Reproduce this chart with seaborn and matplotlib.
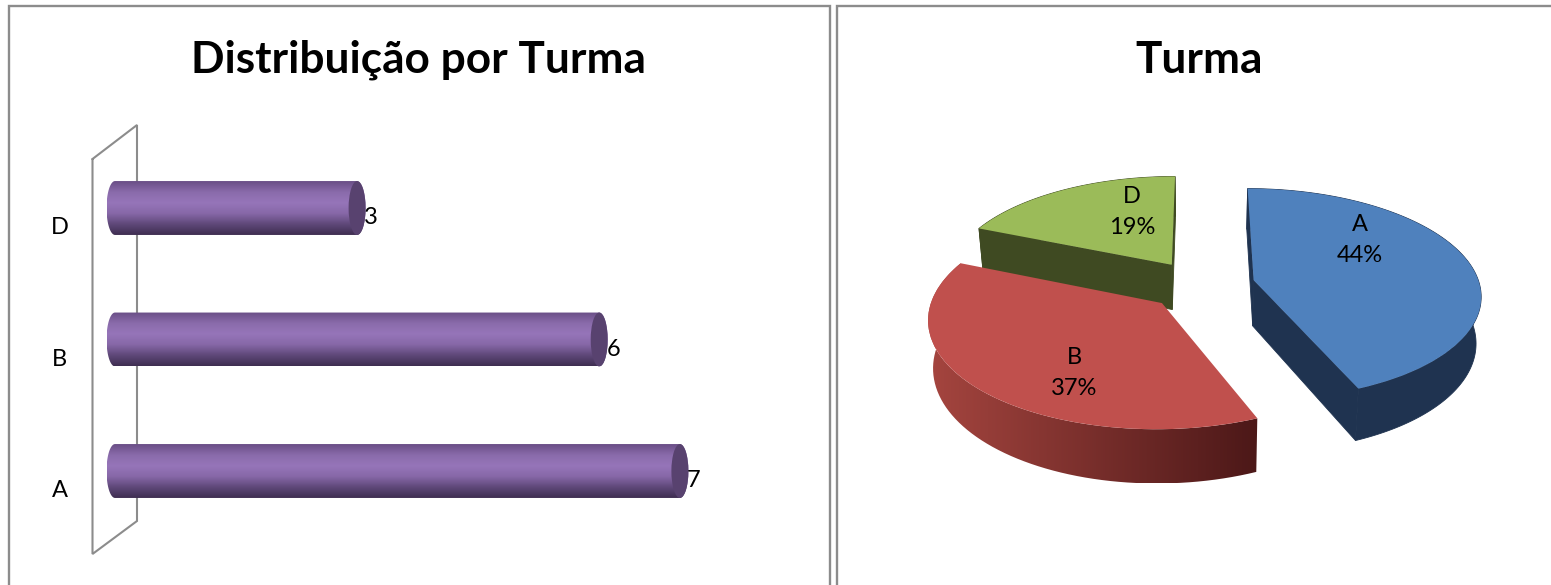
import numpy as np
import matplotlib
matplotlib.use("Agg")
import matplotlib.pyplot as plt
import seaborn as sns
from matplotlib.colors import LinearSegmentedColormap
from matplotlib.lines import Line2D
from matplotlib.patches import Ellipse, PathPatch
from matplotlib.path import Path
from matplotlib.transforms import Affine2D, ScaledTranslation, Transform

# dados
turmas_barras = ["D", "B", "A"]
alunos_barras = [3, 6, 7]

turmas_pizza = ["A", "B", "D"]
alunos_pizza = [7, 6, 3]
percentuais = [44, 37, 19]

cores_topo = ["#4f81bd", "#c0504d", "#9bbb59"]

W, H = 1551, 585
CINZA = "#8c8c8c"

sns.set_theme(style="white")
plt.rcParams["font.family"] = ["Lato", "DejaVu Sans"]
plt.rcParams["text.color"] = "black"

fig = plt.figure(figsize=(W / 100, H / 100), dpi=100, facecolor="white")
# transformacao em pixels da imagem, origem no canto superior esquerdo
px = Affine2D().scale(1, -1).translate(0, H)


def eixo_px(x0, y0, x1, y1):
    return fig.add_axes([x0 / W, 1 - y1 / H, (x1 - x0) / W, (y1 - y0) / H])


# molduras dos dois paineis
for xs, ys in [([9, 9, 830, 830], [H, 5.5, 5.5, H]), ([836.5, 836.5, W], [H, 5.5, 5.5])]:
    fig.add_artist(Line2D(xs, ys, color=CINZA, lw=1.7, transform=px, solid_joinstyle="miter"))

# ---- painel esquerdo: barras cilindricas
ax = eixo_px(100, 100, 750, 570)
ax.patch.set_visible(False)
ESC_X, ESC_Y = 80.7, 131.5
RX = 8.5 / ESC_X
sns.barplot(x=alunos_barras, y=turmas_barras, orient="h", color="#8064a2", width=0.41,
            saturation=1, ax=ax)
ax.set_xlabel("")
ax.set_ylabel("")
ax.set_xticks([])
sns.despine(ax=ax, left=True, bottom=True)
ax.tick_params(axis="y", length=0, pad=29, labelsize=17, colors="black")
for rot in ax.get_yticklabels():
    rot.set_ha("center")
    rot.set_transform(rot.get_transform() + ScaledTranslation(0, -18 / 100, fig.dpi_scale_trans))

# parede do eixo
ax.plot([92.5, 137, 137, 92.5, 92.5], [159, 125, 521, 554, 159], color=CINZA, lw=1.5,
        transform=px, clip_on=False, zorder=0, solid_joinstyle="miter")

degrade = LinearSegmentedColormap.from_list(
    "cilindro", ["#6a4f87", "#8a6bab", "#9675b9", "#8768a8", "#60497a", "#3f2e52"])
t = np.linspace(0, np.pi, 40)
for barra, valor in zip(ax.patches, alunos_barras):
    topo, alt = barra.get_y(), barra.get_height()
    ry, meio = alt / 2, topo + alt / 2
    xs = np.r_[valor + RX * np.sin(t), -RX * np.sin(t)]
    ys = np.r_[meio - ry * np.cos(t), meio + ry * np.cos(t)]
    contorno = PathPatch(Path(np.c_[xs, ys]), facecolor="none", edgecolor="none",
                         transform=ax.transData)
    ax.add_patch(contorno)
    im = ax.imshow(np.linspace(0, 1, 64)[:, None], cmap=degrade, aspect="auto", zorder=2,
                   extent=(-RX, valor + RX, topo + alt, topo))
    im.set_clip_path(contorno)
    barra.set_visible(False)
    ax.add_patch(Ellipse((valor, meio), 2 * RX, alt, facecolor="#58426f", edgecolor="none", zorder=3))
    ax.annotate(str(valor), (valor, meio), xytext=(14, -10), textcoords="offset pixels",
                ha="center", va="center", fontsize=17, zorder=4)

ax.set_xlim((100 - 115) / ESC_X, (750 - 115) / ESC_X)
ax.set_ylim((570 - 208) / ESC_Y, (100 - 208) / ESC_Y)
ax.set_title("Distribuição por Turma", fontsize=31.8, fontweight="bold", color="black",
             x=(418.5 - 100) / 650, y=(570 - 73) / 470, pad=0)


# ---- painel direito: pizza em perspectiva
def projeta(x, y, z=0.0):
    f = 1 / (1 + 0.13 * np.asarray(y))
    return np.asarray(x) * f * (1 - 0.09 * z), (np.asarray(y) * 0.463 - z) * f


class Perspectiva(Transform):
    input_dims = output_dims = 2
    is_separable = False
    has_inverse = False

    def transform_non_affine(self, values):
        values = np.asarray(values)
        return np.column_stack(projeta(values[:, 0], values[:, 1]))


R = 226
PROF = 46 / R
ax2 = eixo_px(850, 100, 1550, 560)
ax2.patch.set_visible(False)
fatias, _ = ax2.pie(alunos_pizza, colors=cores_topo, explode=[54 / R] * 3, startangle=90,
                    counterclock=False, radius=1)
ax2.set_aspect("auto")
ax2.set_xlim((850 - 1201) / R, (1550 - 1201) / R)
ax2.set_ylim((285 - 560) / R, (285 - 100) / R)
ax2.axis("off")


def face_reta(fatia, ang, cor, z):
    cx, cy = fatia.center
    x = np.array([cx, cx + np.cos(np.radians(ang))])
    y = np.array([cy, cy + np.sin(np.radians(ang))])
    u0, v0 = projeta(x, y)
    u1, v1 = projeta(x, y, PROF)
    ax2.fill(np.r_[u0, u1[::-1]], np.r_[v0, v1[::-1]], color=cor, lw=0.6, zorder=z)


def face_arco(fatia, cor_esq, cor_dir, z):
    cx, cy = fatia.center
    angs = np.radians(np.linspace(fatia.theta1, fatia.theta2, 141))
    x, y = cx + np.cos(angs), cy + np.sin(angs)
    u0, v0 = projeta(x, y)
    u1, v1 = projeta(x, y, PROF)
    pts = np.c_[np.r_[u0, u1[::-1]], np.r_[v0, v1[::-1]]]
    if cor_esq == cor_dir:
        ax2.fill(pts[:, 0], pts[:, 1], color=cor_esq, lw=0.6, zorder=z)
        return
    lado = PathPatch(Path(pts), facecolor="none", edgecolor="none", transform=ax2.transData)
    ax2.add_patch(lado)
    mapa = LinearSegmentedColormap.from_list("lado", [cor_esq, cor_dir])
    im = ax2.imshow(np.linspace(0, 1, 128)[None, :], cmap=mapa, aspect="auto", zorder=z,
                    extent=(pts[:, 0].min(), pts[:, 0].max(), pts[:, 1].min(), pts[:, 1].max()))
    im.set_clip_path(lado)


lados = [("#1f3350", "#1f3350"), ("#a5453f", "#4c1818"), ("#3f4a22", "#3f4a22")]
prof_z = [6, 4, 2]
for fatia, (ce, cd), z in zip(fatias, lados, prof_z):
    fatia.set_transform(Perspectiva() + ax2.transData)
    fatia.set_edgecolor("none")
    fatia.set_zorder(z + 1)
    face_arco(fatia, ce, cd, z)
    # lados retos voltados para a frente
    if z != 4:
        face_reta(fatia, fatia.theta1, ce, z)
        face_reta(fatia, fatia.theta2, ce, z)

pos_rot = [(1360, 240), (1074, 373), (1132, 212)]
for nome, pct, (xr, yr) in zip(turmas_pizza, percentuais, pos_rot):
    ax2.text(xr, yr, f"{nome}\n{pct}%", transform=px, ha="center", va="center", fontsize=17,
             linespacing=1.6, zorder=10, clip_on=False)

ax2.set_title("Turma", fontsize=31.8, fontweight="bold", color="black",
              x=(1199.5 - 850) / 700, y=(560 - 73) / 460, pad=0)

fig.savefig("out.png", dpi=100)
